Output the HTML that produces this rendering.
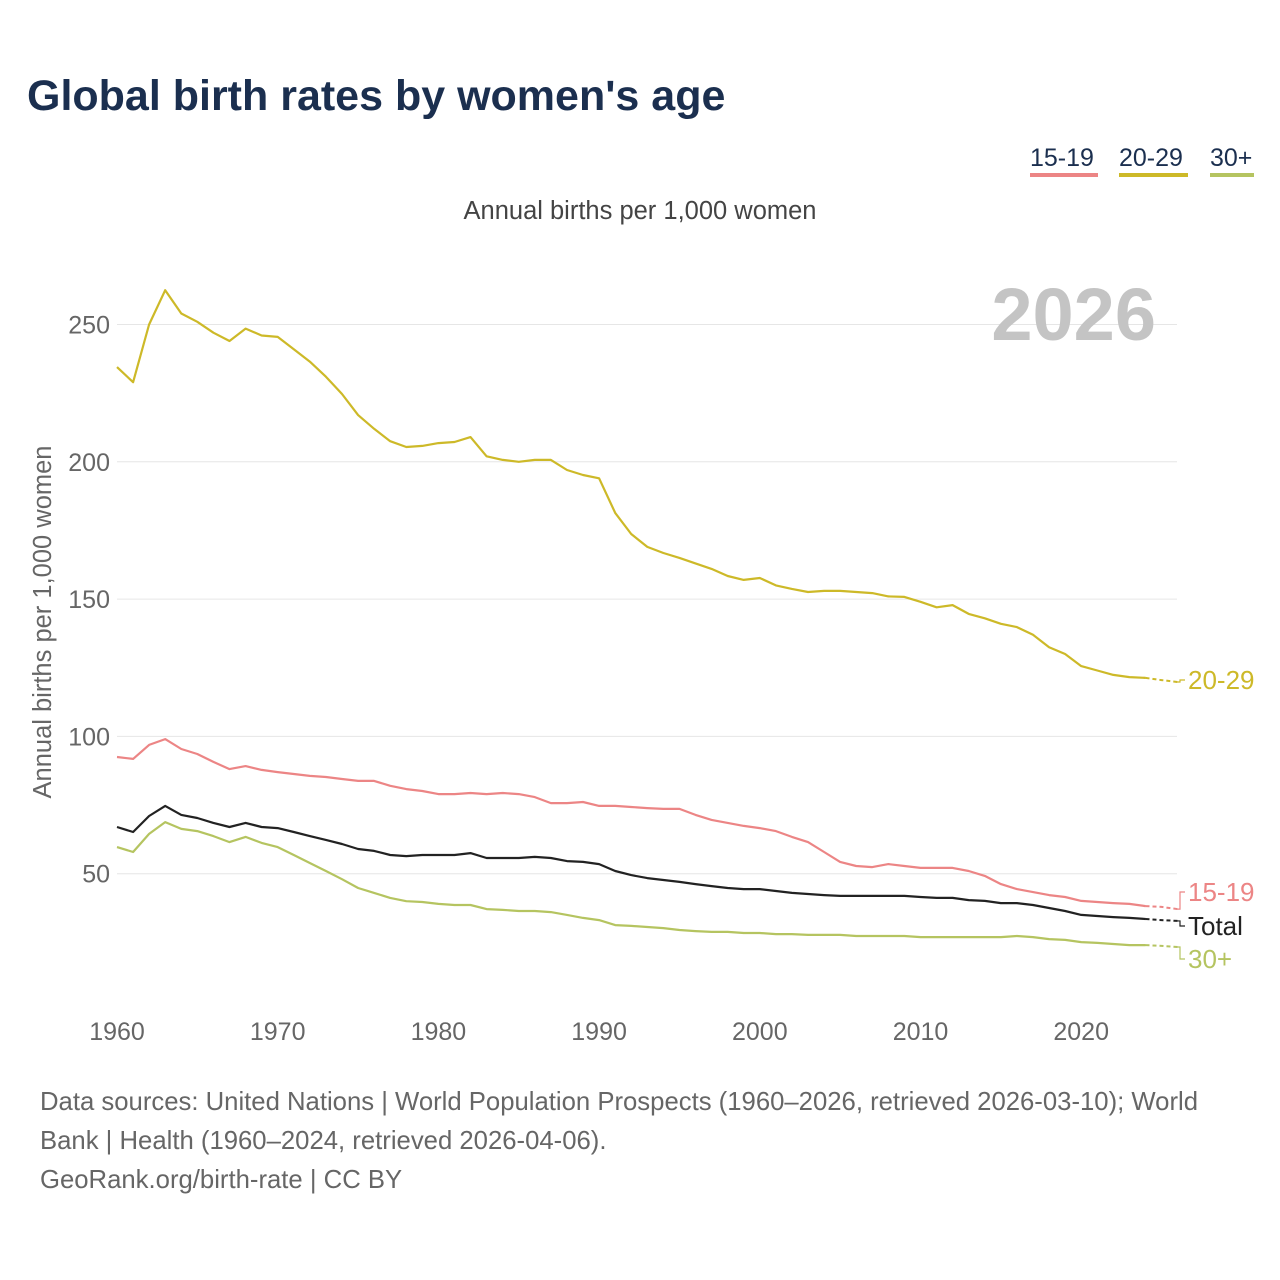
<!DOCTYPE html>
<html><head><meta charset="utf-8"><style>
body{margin:0;background:#fff;font-family:"Liberation Sans",sans-serif;}
#wrap{position:relative;width:1280px;height:1280px;overflow:hidden;}
.t{position:absolute;white-space:nowrap;}
</style></head><body>
<div id="wrap">
<div class="t" style="left:27px;top:72px;font-size:43px;font-weight:bold;color:#1b2f4f;">Global birth rates by women's age</div>
<div class="t" style="left:1030px;top:144px;font-size:25px;color:#1b2f4f;border-bottom:4px solid #ec8585;width:68px;">15-19</div>
<div class="t" style="left:1119px;top:144px;font-size:25px;color:#1b2f4f;border-bottom:4px solid #cdb928;width:69px;">20-29</div>
<div class="t" style="left:1210px;top:144px;font-size:25px;color:#1b2f4f;border-bottom:4px solid #b5c460;width:44px;">30+</div>
<div class="t" style="left:0;width:1280px;text-align:center;top:197px;font-size:25.5px;color:#444;">Annual births per 1,000 women</div>
<svg id="chart" width="1280" height="1280" style="position:absolute;left:0;top:0"></svg>
<div class="t" style="left:40px;top:1083px;font-size:25.7px;line-height:39px;color:#666;">Data sources: United Nations | World Population Prospects (1960–2026, retrieved 2026-03-10); World<br>Bank | Health (1960–2024, retrieved 2026-04-06).<br>GeoRank.org/birth-rate | CC BY</div>
</div>
<script>
const years=[];for(let y=1960;y<=2026;y++)years.push(y);
const s2029=[234.5,229,250,262.5,254,251,247,244,248.5,246,245.5,241,236.5,231,224.7,217,212,207.5,205.4,205.8,206.8,207.2,209,202,200.7,200,200.7,200.7,197,195.2,194,181.4,173.7,169,166.8,165,163,161,158.4,157,157.7,155,153.7,152.6,153,153,152.6,152.2,151,150.8,149,147,147.8,144.6,143,141,139.8,137,132.5,130,125.6,124,122.4,121.6,121.3,120.5,119.8];
const s1519=[92.5,91.8,96.9,99,95.4,93.6,90.7,88.1,89.2,87.8,87,86.3,85.6,85.2,84.5,83.8,83.8,82,80.8,80.1,79,79,79.4,79,79.4,79,77.9,75.7,75.7,76.1,74.7,74.7,74.3,73.9,73.6,73.6,71.4,69.6,68.5,67.4,66.6,65.5,63.4,61.5,57.9,54.3,52.8,52.4,53.5,52.8,52.1,52.1,52.1,51,49.2,46.2,44.4,43.3,42.2,41.5,40.1,39.7,39.3,39,38.2,37.9,37.1];
const sTotal=[67,65.2,71,74.7,71.4,70.3,68.5,67,68.5,67,66.6,65.2,63.7,62.3,60.8,59,58.3,56.8,56.4,56.8,56.8,56.8,57.5,55.7,55.7,55.7,56.1,55.7,54.6,54.3,53.5,51,49.5,48.4,47.7,47,46.2,45.5,44.8,44.4,44.4,43.7,43,42.6,42.2,41.9,41.9,41.9,41.9,41.9,41.5,41.2,41.2,40.4,40.1,39.3,39.3,38.6,37.5,36.4,35,34.6,34.2,33.9,33.5,33.1,32.8];
const s30=[59.7,57.9,64.5,68.8,66.3,65.5,63.7,61.5,63.4,61.2,59.7,56.8,53.9,51,48,44.8,43,41.2,40,39.7,39,38.6,38.6,37.1,36.8,36.4,36.4,36,35,33.9,33.1,31.3,31,30.6,30.2,29.5,29.1,28.8,28.8,28.4,28.4,28,28,27.7,27.7,27.7,27.3,27.3,27.3,27.3,26.9,26.9,26.9,26.9,26.9,26.9,27.3,26.9,26.2,25.9,25.1,24.8,24.4,24,24,23.7,23.3];
const yTicks=[50,100,150,200,250];
const xTicks=[1960,1970,1980,1990,2000,2010,2020];
const X=y=>117+(y-1960)*16.07;
const Y=v=>1011-v*2.746;
const svg=document.getElementById('chart');
const NS='http://www.w3.org/2000/svg';
function mk(t,a,p){const e=document.createElementNS(NS,t);for(const k in a)e.setAttribute(k,a[k]);(p||svg).appendChild(e);return e;}
yTicks.forEach(v=>{
 const g=mk('line',{x1:117,x2:1177,y1:Y(v),y2:Y(v),stroke:'#e6e6e6','stroke-width':1});
 
 
 const t=mk('text',{x:110,y:Y(v)+9,'text-anchor':'end','font-size':25,fill:'#666','font-family':'Liberation Sans, sans-serif'});
 t.textContent=v;
 
 
});
xTicks.forEach(v=>{
 const t=mk('text',{x:X(v),y:1040,'text-anchor':'middle','font-size':25,fill:'#666','font-family':'Liberation Sans, sans-serif'});
 t.textContent=v;
 
 
});
const yt=mk('text',{x:0,y:0,transform:'translate(51,622) rotate(-90)','text-anchor':'middle','font-size':25.5,fill:'#666','font-family':'Liberation Sans, sans-serif'});
yt.textContent='Annual births per 1,000 women';


const yr=mk('text',{x:1156,y:340,'text-anchor':'end','font-size':74,'font-weight':'bold',fill:'#c4c4c4','font-family':'Liberation Sans, sans-serif'});
yr.textContent='2026';


function series(arr,color,name,label,ly){
 const solid=[],dash=[];
 years.forEach((y,i)=>{const p=X(y).toFixed(1)+','+Y(arr[i]).toFixed(1);if(y<=2024)solid.push(p);if(y>=2024)dash.push(p);});
 const l=mk('polyline',{points:solid.join(' '),fill:'none',stroke:color,'stroke-width':2.2,'stroke-linejoin':'round'});
 
 
 const d=mk('polyline',{points:dash.join(' '),fill:'none',stroke:color,'stroke-width':2,'stroke-dasharray':'4,3'});
 
 
 const ey=Y(arr[arr.length-1]);
 const c=mk('polyline',{points:`1177,${ey} 1180,${ey} 1180,${ly} 1185,${ly}`,fill:'none',stroke:color,'stroke-width':1.2});
 
 
 const t=mk('text',{x:1188,y:ly+9,'font-size':26,fill:color,'font-family':'Liberation Sans, sans-serif'});
 t.textContent=label;
 
 
}
series(s2029,'#cdb928','series-20-29','20-29',680);
series(s1519,'#ec8585','series-15-19','15-19',892);
series(s30,'#b5c460','series-30-plus','30+',959);
series(sTotal,'#222','series-total','Total',926);
</script>
</body></html>
